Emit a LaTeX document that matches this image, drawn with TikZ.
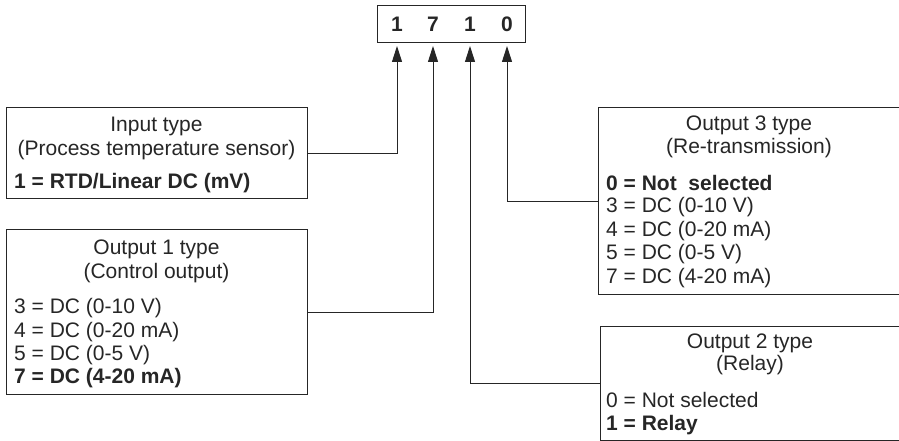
\documentclass[tikz,border=0pt]{standalone}
\usepackage{fontspec}
\setmainfont{Liberation Sans}
\usetikzlibrary{arrows.meta}
\definecolor{ink}{HTML}{262626}
\begin{document}
\begin{tikzpicture}[x=1pt,y=-1pt,
  box/.style={draw=ink,line width=1pt,rectangle,inner sep=0pt,anchor=north west},
  txt/.style={font=\fontsize{21}{24}\selectfont,text=ink,inner sep=0pt},
  ttl/.style={txt,anchor=center},
  item/.style={txt,anchor=west},
  bolditem/.style={item,font=\fontsize{21}{24}\selectfont\bfseries},
  digit/.style={txt,font=\fontsize{21}{24}\selectfont\bfseries,anchor=center},
  conn/.style={draw=ink,line width=1pt,-{Triangle[length=16pt,width=10pt]}}]
\useasboundingbox (0,0) rectangle (899,441);
\clip (0,0) rectangle (899,441);
% code box
\node[box,minimum width=148pt,minimum height=37pt] (code) at (377,5) {};
\node[digit] (d1) at (397,24) {1};
\node[digit] (d2) at (433,24) {7};
\node[digit] (d3) at (470,24) {1};
\node[digit] (d4) at (507,24) {0};
\coordinate (t1) at (397,46);
\coordinate (t2) at (433,46);
\coordinate (t3) at (470,46);
\coordinate (t4) at (507,46);
% input box
\node[box,minimum width=301pt,minimum height=91pt] (inbox) at (6,107) {};
\node[ttl] (in1) at (156.5,126) {Input type};
\node[ttl] (in2) at (156.5,150) {(Process temperature sensor)};
\node[bolditem] (in3) at (14,183) {1 = RTD/Linear DC (mV)};
% output 1 box
\node[box,minimum width=301pt,minimum height=165pt] (oabox) at (6,229) {};
\node[ttl] (oa1) at (156.5,249) {Output 1 type};
\node[ttl] (oa2) at (156.5,273) {(Control output)};
\node[item] (oa3) at (14,308) {3 = DC (0-10 V)};
\node[item] (oa4) at (14,332) {4 = DC (0-20 mA)};
\node[item] (oa5) at (14,355) {5 = DC (0-5 V)};
\node[bolditem] (oa6) at (14,378) {7 = DC (4-20 mA)};
% output 3 box
\node[box,minimum width=320pt,minimum height=187pt] (ocbox) at (598,107) {};
\node[ttl] (oc1) at (749,125) {Output 3 type};
\node[ttl] (oc2) at (749,148) {(Re-transmission)};
\node[bolditem] (oc3) at (606,183) {0 = Not\ \ selected};
\node[item] (oc4) at (606,207) {3 = DC (0-10 V)};
\node[item] (oc5) at (606,231) {4 = DC (0-20 mA)};
\node[item] (oc6) at (606,254) {5 = DC (0-5 V)};
\node[item] (oc7) at (606,278) {7 = DC (4-20 mA)};
% output 2 box
\node[box,minimum width=320pt,minimum height=114pt] (obbox) at (600,326) {};
\node[ttl] (ob1) at (750,343) {Output 2 type};
\node[ttl] (ob2) at (750,365) {(Relay)};
\node[item] (ob3) at (606,400) {0 = Not selected};
\node[bolditem] (ob4) at (606,425) {1 = Relay};
% connectors
\draw[conn] (inbox.east) -| (t1);
\draw[conn] (oabox.east) -| (t2);
\draw[conn] (obbox.west) -| (t3);
\draw[conn] (ocbox.west) -| (t4);
\end{tikzpicture}
\end{document}
